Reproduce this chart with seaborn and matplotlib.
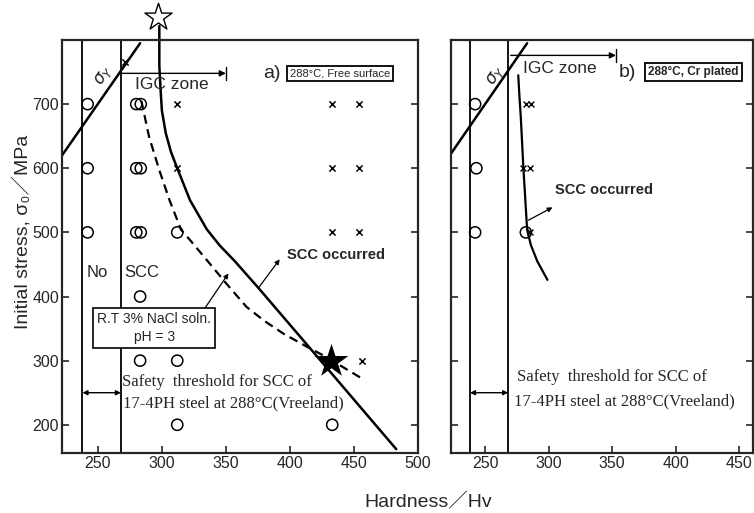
import matplotlib
matplotlib.use("Agg")
import matplotlib.pyplot as plt
import seaborn as sns

# panel a) 288C, free surface
a_circle_hv = [242, 242, 242, 280, 283.5, 280, 283.5, 280, 283.5, 283, 283, 312, 312, 312, 433]
a_circle_sig = [700, 600, 500, 700, 700, 600, 600, 500, 500, 400, 300, 300, 500, 200, 200]
a_cross_hv = [312, 433, 454, 312, 433, 454, 433, 454, 456, 271]
a_cross_sig = [700, 700, 700, 600, 600, 600, 500, 500, 300, 765]
a_star_hv = [432]
a_star_sig = [300]
a_open_star_hv = [297]
a_open_star_sig = [836]

# SCC boundary, 288C (solid) and R.T. 3% NaCl (dashed)
a_solid_hv = [298, 298, 299, 300, 303, 307, 312, 322, 335, 345, 357, 376, 400, 433, 483]
a_solid_sig = [822, 760, 722, 690, 655, 626, 600, 550, 505, 480, 455, 412, 356, 279, 162]
a_dash_hv = [284, 290, 298, 306, 315, 322, 335, 350, 366, 380, 395, 413, 428, 458]
a_dash_sig = [705, 649, 597, 550, 504, 488, 457, 421, 384, 362, 342, 322, 306, 270]

# yield stress line
sy_hv = [222, 283]
sy_sig = [620, 795]

# panel b) 288C, Cr plated
b_circle_hv = [242, 243, 242, 282]
b_circle_sig = [700, 600, 500, 500]
b_cross_hv = [282, 286, 280, 285, 285]
b_cross_sig = [700, 700, 600, 600, 500]
b_curve_hv = [276, 277, 278, 280, 283, 286, 291, 299]
b_curve_sig = [745, 710, 680, 602, 504, 480, 455, 426]

igc_lines = [238, 268]

sns.set_style("ticks")
plt.rcParams['font.family'] = ['Liberation Sans', 'DejaVu Sans', 'Noto Sans CJK JP']
plt.rcParams['mathtext.fontset'] = 'dejavusans'
serif = ['Liberation Serif', 'DejaVu Serif']

fig = plt.figure(figsize=(7.54, 5.13), dpi=100)
ax1 = fig.add_axes([62/754, 1-453/513, 356/754, 413/513])
ax2 = fig.add_axes([451/754, 1-453/513, 302/754, 413/513])


def base(ax, xlim, xticks):
    for x in igc_lines:
        ax.axvline(x, color='k', lw=1.3)
    sns.lineplot(x=sy_hv, y=sy_sig, sort=False, estimator=None, color='k', lw=1.8, ax=ax)
    ax.set_xlim(*xlim)
    ax.set_ylim(156, 800)
    ax.set_xticks(xticks)
    ax.set_yticks([200, 300, 400, 500, 600, 700])
    ax.tick_params(direction='in', length=5, width=1.2, right=True, labelsize=11.5, pad=2)
    for s in ax.spines.values():
        s.set_linewidth(1.6)
        s.set_visible(True)
    ax.set_xlabel('')
    ax.set_ylabel('')
    ax.annotate('', xy=(igc_lines[0], 250), xytext=(igc_lines[1], 250),
                arrowprops=dict(arrowstyle='<|-|>', color='k', lw=1, mutation_scale=7,
                                shrinkA=0, shrinkB=0))


base(ax1, (222, 500), [250, 300, 350, 400, 450, 500])
base(ax2, (223, 461), [250, 300, 350, 400, 450])
ax2.tick_params(labelleft=False)

# ---- panel a
sns.lineplot(x=a_solid_hv, y=a_solid_sig, sort=False, estimator=None, color='k', lw=1.8,
             ax=ax1, clip_on=False)
sns.lineplot(x=a_dash_hv, y=a_dash_sig, sort=False, estimator=None, color='k', lw=1.6,
             linestyle=(0, (4, 2.5)), ax=ax1)
sns.scatterplot(x=a_circle_hv, y=a_circle_sig, marker='o', s=65, facecolor='none',
                edgecolor='k', linewidth=1.1, ax=ax1, zorder=4)
sns.scatterplot(x=a_cross_hv, y=a_cross_sig, marker='x', s=20, color='k', linewidth=1.1,
                ax=ax1, zorder=4)
sns.scatterplot(x=a_star_hv, y=a_star_sig, marker='*', s=650, color='k', linewidth=0,
                ax=ax1, zorder=5)
sns.scatterplot(x=a_open_star_hv, y=a_open_star_sig, marker='*', s=420, facecolor='white',
                edgecolor='k', linewidth=1.0, ax=ax1, clip_on=False, zorder=5)

ax1.annotate('', xy=(350, 748), xytext=(268, 748),
             arrowprops=dict(arrowstyle='-|>', color='k', lw=1, mutation_scale=9,
                             shrinkA=0, shrinkB=0))
ax1.plot([350, 350], [738, 758], color='k', lw=1)
ax1.text(279, 730, 'IGC zone', fontsize=12.5, va='center')
ax1.text(254.5, 745, r'$\sigma_Y$', fontsize=12, rotation=55, ha='center', va='center')
ax1.text(386, 748, 'a)', fontsize=14, ha='center', va='center')
ax1.text(439, 748, '288°C, Free surface', fontsize=8, ha='center',
         va='center', bbox=dict(boxstyle='square,pad=0.25', fc='white', ec='k', lw=1.3))
ax1.text(398, 465, 'SCC occurred', fontsize=10.5, weight='bold', va='center')
ax1.annotate('', xy=(392, 458), xytext=(376, 415),
             arrowprops=dict(arrowstyle='-|>', color='k', lw=0.9, mutation_scale=7,
                             shrinkA=0, shrinkB=0))
ax1.text(241, 438, 'No', fontsize=12, va='center')
ax1.text(271, 438, 'SCC', fontsize=12, va='center',
         bbox=dict(boxstyle='square,pad=0.05', fc='white', ec='none'))
ax1.text(294, 351, 'R.T 3% NaCl soln.\npH = 3', fontsize=10, ha='center',
         va='center', linespacing=1.3,
         bbox=dict(boxstyle='square,pad=0.3', fc='white', ec='k', lw=1.2))
ax1.annotate('', xy=(352, 436), xytext=(334, 383),
             arrowprops=dict(arrowstyle='-|>', color='k', lw=0.9, mutation_scale=7,
                             shrinkA=0, shrinkB=0))
ax1.text(269, 267, 'Safety  threshold for SCC of', fontsize=12, family=serif, va='center')
ax1.text(270, 234, '17-4PH steel at 288°C(Vreeland)', fontsize=12, family=serif,
         va='center')

# ---- panel b
sns.lineplot(x=b_curve_hv, y=b_curve_sig, sort=False, estimator=None, color='k', lw=1.6,
             ax=ax2)
sns.scatterplot(x=b_circle_hv, y=b_circle_sig, marker='o', s=65, facecolor='none',
                edgecolor='k', linewidth=1.1, ax=ax2, zorder=4)
sns.scatterplot(x=b_cross_hv, y=b_cross_sig, marker='x', s=18, color='k', linewidth=1.0,
                ax=ax2, zorder=4)
ax2.annotate('', xy=(353, 776), xytext=(270, 776),
             arrowprops=dict(arrowstyle='-|>', color='k', lw=1, mutation_scale=9,
                             shrinkA=0, shrinkB=0))
ax2.plot([353, 353], [766, 786], color='k', lw=1)
ax2.text(280, 756, 'IGC zone', fontsize=12.5, va='center')
ax2.text(258, 745, r'$\sigma_Y$', fontsize=12, rotation=55, ha='center', va='center')
ax2.text(355, 750, 'b)', fontsize=14, ha='left', va='center')
ax2.text(414, 750, '288°C, Cr plated', fontsize=8.5, weight='bold', ha='center',
         va='center', bbox=dict(boxstyle='square,pad=0.25', fc='white', ec='k', lw=1.3))
ax2.text(305, 566, 'SCC occurred', fontsize=10.5, weight='bold', va='center')
ax2.annotate('', xy=(303, 539), xytext=(284, 519),
             arrowprops=dict(arrowstyle='-|>', color='k', lw=0.9, mutation_scale=7,
                             shrinkA=0, shrinkB=0))
ax2.text(275, 275, 'Safety  threshold for SCC of', fontsize=12, family=serif, va='center')
ax2.text(273, 236, '17-4PH steel at 288°C(Vreeland)', fontsize=12, family=serif,
         va='center')

fig.text(428/754, 1-502/513, 'Hardness／Hv', fontsize=14, ha='center', va='center')
fig.text(22/754, 1-232/513, 'Initial stress, σ₀／MPa', fontsize=14,
         rotation=90, ha='center', va='center')

plt.savefig('out.png', dpi=100)
